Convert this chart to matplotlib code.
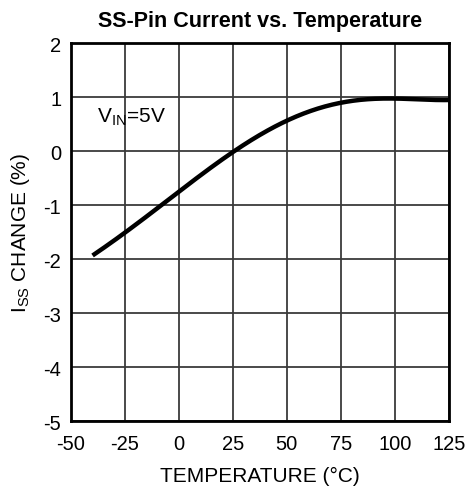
import matplotlib
matplotlib.use("Agg")
import matplotlib.pyplot as plt
import numpy as np

plt.rcParams['font.family'] = ['Liberation Sans', 'DejaVu Sans']

temp = [-40, -25, -10, 0, 10, 25, 40, 50, 60, 75, 90, 100, 110, 125]
change = [-1.94, -1.50, -1.05, -0.77, -0.47, 0.0, 0.37, 0.56, 0.72, 0.89, 0.96, 0.97, 0.97, 0.94]
xticks = [-50, -25, 0, 25, 50, 75, 100, 125]
yticks = [-5, -4, -3, -2, -1, 0, 1, 2]

fig = plt.figure(figsize=(4.67, 4.89), dpi=100)
ax = fig.add_axes([0.152, 0.137, 0.809, 0.773])

xs = np.linspace(min(temp), max(temp), 300)
coef = np.polyfit(temp, change, 5)
ax.plot(xs, np.polyval(coef, xs), color='black', lw=3.2, solid_capstyle='butt', zorder=3)

ax.set_xlim(-50, 125)
ax.set_ylim(-5, 2)
ax.set_xticks(xticks)
ax.set_yticks(yticks)
ax.set_xticklabels([str(t) for t in xticks])
ax.set_yticklabels([str(t) for t in yticks])
ax.grid(True, color='#3a3a3a', lw=1.3)
ax.tick_params(length=0, labelsize=14.5)
ax.tick_params(axis='x', pad=9)
ax.tick_params(axis='y', pad=7)
for s in ax.spines.values():
    s.set_linewidth(2)
    s.set_color('black')

ax.set_title('SS-Pin Current vs. Temperature', fontsize=15.5, fontweight='bold', pad=12)
ax.set_xlabel('TEMPERATURE (°C)', fontsize=15, labelpad=10)
ax.set_ylabel('I$_{\\mathregular{SS}}$ CHANGE (%)', fontsize=15, labelpad=8)
ax.text(-38, 0.55, 'V$_{\\mathregular{IN}}$=5V', fontsize=15)

fig.savefig('out.png', dpi=100)
